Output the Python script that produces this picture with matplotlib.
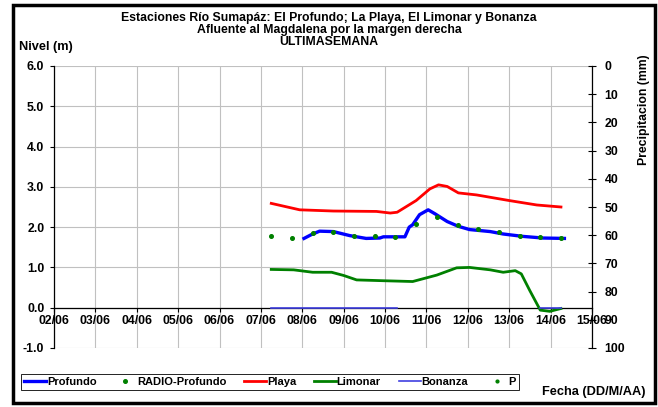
import numpy as np
import pandas as pd
import matplotlib
matplotlib.use("Agg")
import matplotlib.pyplot as plt
import matplotlib.dates as mdates
from matplotlib.patches import Rectangle

plt.rcParams['font.family'] = ['Liberation Sans', 'DejaVu Sans']
plt.rcParams['font.weight'] = 'bold'

YEAR = "2014"

# Profundo (nivel, m)
profundo_t = ["08/06 01:00", "08/06 05:30", "08/06 10:00", "08/06 18:00", "09/06 03:30",
              "09/06 13:00", "09/06 21:00", "09/06 23:00", "10/06 11:30", "10/06 14:00",
              "10/06 16:00", "10/06 20:00", "11/06 01:00", "11/06 05:00", "11/06 12:00",
              "11/06 18:30", "12/06 01:00", "12/06 13:00", "12/06 20:30", "13/06 08:00",
              "13/06 19:30", "14/06 08:00"]
profundo_v = [1.72, 1.82, 1.90, 1.89, 1.79, 1.72, 1.73, 1.76, 1.76, 2.00,
              2.06, 2.31, 2.43, 2.33, 2.14, 2.02, 1.94, 1.89, 1.83, 1.77,
              1.73, 1.72]

# RADIO-Profundo (puntos cada 12 h)
radio_t = ["07/06 06:00", "07/06 18:00", "08/06 06:00", "08/06 18:00", "09/06 06:00",
           "09/06 18:00", "10/06 06:00", "10/06 18:00", "11/06 06:00", "11/06 18:00",
           "12/06 06:00", "12/06 18:00", "13/06 06:00", "13/06 18:00", "14/06 06:00"]
radio_v = [1.77, 1.72, 1.86, 1.89, 1.77, 1.77, 1.76, 2.08, 2.25, 2.06,
           1.95, 1.88, 1.78, 1.76, 1.72]

# Playa
playa_t = ["07/06 06:00", "07/06 22:30", "08/06 18:00", "09/06 19:00", "10/06 03:00",
           "10/06 07:00", "10/06 18:00", "11/06 02:00", "11/06 07:00", "11/06 12:00",
           "11/06 18:30", "12/06 05:00", "13/06 00:00", "13/06 16:00", "14/06 06:00"]
playa_v = [2.59, 2.43, 2.40, 2.39, 2.35, 2.37, 2.66, 2.95, 3.05, 3.01,
           2.85, 2.80, 2.66, 2.55, 2.50]

# Limonar
limonar_t = ["07/06 06:00", "07/06 19:00", "08/06 06:00", "08/06 17:00", "09/06 00:00",
             "09/06 07:30", "09/06 23:00", "10/06 16:00", "11/06 06:00", "11/06 17:30",
             "12/06 01:00", "12/06 13:00", "12/06 20:30", "13/06 03:30", "13/06 07:00",
             "13/06 12:00", "13/06 18:00", "13/06 23:30", "14/06 06:00"]
limonar_v = [0.95, 0.94, 0.88, 0.88, 0.80, 0.69, 0.67, 0.65, 0.81, 0.99,
             1.00, 0.94, 0.88, 0.92, 0.84, 0.42, -0.06, -0.09, -0.02]

# Bonanza (dos tramos, hueco entre ellos)
bonanza_t = ["07/06 06:00", "10/06 07:00", "10/06 08:00", "13/06 17:00",
             "13/06 18:00", "14/06 06:00"]
bonanza_v = [0.0, 0.0, np.nan, np.nan, 0.0, 0.0]

# P (precipitacion, sin datos)
p_t = []
p_v = []

x_ticks = ["02/06", "03/06", "04/06", "05/06", "06/06", "07/06", "08/06",
           "09/06", "10/06", "11/06", "12/06", "13/06", "14/06", "15/06"]


def to_dt(labels):
    return pd.to_datetime([f"{s} {YEAR}" for s in labels], format="%d/%m %H:%M %Y")


W, H = 658, 407
fig = plt.figure(figsize=(W / 100, H / 100), dpi=100)

# axes placement (pixels from the reference)
left, right, top, bottom = 54, 592, 66, 348
ax = fig.add_axes([left / W, 1 - bottom / H, (right - left) / W, (bottom - top) / H])

tick_dt = pd.to_datetime([f"{s} {YEAR}" for s in x_ticks], format="%d/%m %Y")
ax.set_xlim(tick_dt[0], tick_dt[-1])
ax.set_ylim(-1, 6)
ax.set_xticks(tick_dt)
ax.xaxis.set_major_formatter(mdates.DateFormatter("%d/%m"))
ax.set_yticks(np.arange(-1, 7, 1))
ax.yaxis.set_major_formatter(matplotlib.ticker.FormatStrFormatter("%.1f"))

ax.grid(True, color="#c0c0c0", linewidth=0.8)
ax.set_axisbelow(True)
ax.spines["top"].set_visible(False)
ax.spines["right"].set_visible(False)
ax.spines["bottom"].set_position(("data", 0))
ax.spines["bottom"].set_linewidth(0.9)
ax.spines["left"].set_linewidth(0.9)
ax.tick_params(axis="both", labelsize=8.8, length=3, width=0.8, colors="black")
ax.tick_params(axis="x", pad=2)
ax.tick_params(axis="y", pad=4)
for lab in ax.get_xticklabels() + ax.get_yticklabels():
    lab.set_fontweight("bold")

l1, = ax.plot(to_dt(profundo_t), profundo_v, color="#0000ff", lw=2.4, label="Profundo", zorder=4)
l2, = ax.plot(to_dt(radio_t), radio_v, ls="none", marker="o", ms=2.6,
              color="#008000", label="RADIO-Profundo", zorder=5)
l3, = ax.plot(to_dt(playa_t), playa_v, color="#ff0000", lw=2.0, label="Playa", zorder=4)
l4, = ax.plot(to_dt(limonar_t), limonar_v, color="#008000", lw=2.0, label="Limonar", zorder=4)
l5, = ax.plot(to_dt(bonanza_t), bonanza_v, color="#4040e0", lw=1.2, label="Bonanza", zorder=4)
l6, = ax.plot(pd.to_datetime(p_t), p_v, ls="none", marker="o", ms=2.0,
              color="#008000", label="P", zorder=5)

# right axis: precipitation (inverted)
ax2 = ax.twinx()
ax2.set_ylim(100, 0)
ax2.set_yticks(np.arange(0, 101, 10))
ax2.spines["top"].set_visible(False)
ax2.spines["left"].set_visible(False)
ax2.spines["bottom"].set_visible(False)
ax2.spines["right"].set_linewidth(0.9)
ax2.tick_params(axis="y", labelsize=8.8, direction="inout", length=6, width=0.8, pad=6)
for lab in ax2.get_yticklabels():
    lab.set_fontweight("bold")
ax2.set_ylabel("Precipitacion (mm)", fontsize=8.8, fontweight="bold")
ax2.yaxis.set_label_coords(1.085, 0.845)

# titles and labels
fig.text(0.5, 1 - 18 / H, "Estaciones Río Sumapáz: El Profundo; La Playa, El Limonar y Bonanza",
         ha="center", va="center", fontsize=8.8, fontweight="bold")
fig.text(0.5, 1 - 30 / H, "Afluente al Magdalena por la margen derecha",
         ha="center", va="center", fontsize=8.8, fontweight="bold")
fig.text(0.5, 1 - 42 / H, "ULTIMASEMANA",
         ha="center", va="center", fontsize=8.8, fontweight="bold")
fig.text(19 / W, 1 - 47 / H, "Nivel (m)", ha="left", va="center",
         fontsize=9.2, fontweight="bold")
fig.text(646 / W, 1 - 392 / H, "Fecha (DD/M/AA)", ha="right", va="center",
         fontsize=9.2, fontweight="bold")

leg = fig.legend(handles=[l1, l2, l3, l4, l5, l6], loc="center",
                 bbox_to_anchor=(270 / W, 1 - 382 / H), ncol=6, fontsize=8,
                 frameon=True, fancybox=False, edgecolor="black", framealpha=1,
                 handlelength=2.0, handletextpad=0.05, columnspacing=1.6,
                 borderpad=0.3, markerscale=1.0)
leg.get_frame().set_linewidth(0.6)
for t in leg.get_texts():
    t.set_fontweight("bold")

# figure border
fig.patches.append(Rectangle((13 / W, 1 - 403 / H), (655 - 13) / W, (403 - 5) / H,
                             transform=fig.transFigure, fill=False,
                             edgecolor="black", linewidth=2.5))

fig.savefig("out.png", dpi=100)
